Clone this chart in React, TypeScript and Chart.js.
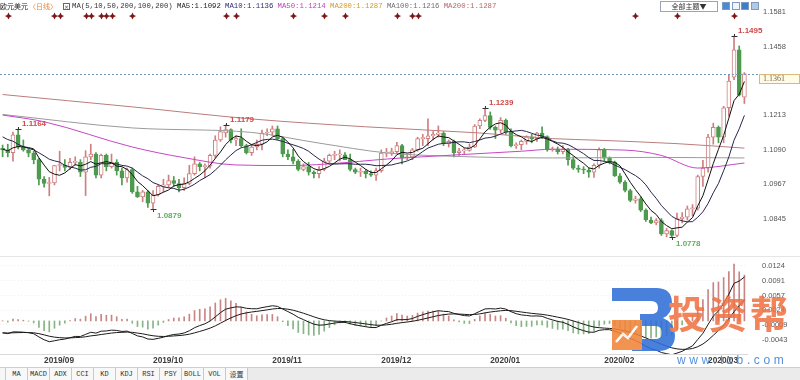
import React, { useEffect, useRef } from "react";
import { Chart, registerables } from "chart.js";

Chart.register(...registerables);

// ---------------- data ----------------
const monthLabels = ["2019/09", "2019/10", "2019/11", "2019/12", "2020/01", "2020/02", "2020/03"];
const monthStartIdx = [8, 29, 52, 73, 94, 116, 136];

const opens = [
  1.1095, 1.1090, 1.1080, 1.1143, 1.1100, 1.1090, 1.1078, 1.1055, 1.0985, 1.0970,
  1.0972, 1.1034, 1.1036, 1.1027, 1.1045, 1.1045, 1.1010, 1.1065, 1.1075, 1.1000,
  1.1070, 1.1030, 1.1045, 1.1015, 1.0990, 1.1020, 1.0940, 1.0922, 1.0940, 1.0900,
  1.0930, 1.0960, 1.0965, 1.0980, 1.0970, 1.0955, 1.0970, 1.1005, 1.1040, 1.1030,
  1.1032, 1.1070, 1.1125, 1.1150, 1.1162, 1.1125, 1.1130, 1.1105, 1.1080, 1.1100,
  1.1110, 1.1150, 1.1153, 1.1165, 1.1130, 1.1075, 1.1065, 1.1050, 1.1020, 1.1030,
  1.1010, 1.1005, 1.1020, 1.1050, 1.1070, 1.1072, 1.1072, 1.1055, 1.1020, 1.1010,
  1.1013, 1.1005, 1.1000, 1.1016, 1.1078, 1.1080, 1.1083, 1.1105, 1.1060, 1.1065,
  1.1090, 1.1130, 1.1130, 1.1140, 1.1145, 1.1150, 1.1112, 1.1120, 1.1080, 1.1086,
  1.1088, 1.1100, 1.1175, 1.1195, 1.1212, 1.1170, 1.1160, 1.1195, 1.1153, 1.1105,
  1.1108, 1.1120, 1.1135, 1.1130, 1.1150, 1.1137, 1.1090, 1.1093, 1.1083, 1.1092,
  1.1055, 1.1025, 1.1020, 1.1018, 1.1010, 1.1035, 1.1090, 1.1060, 1.1045, 1.0997,
  1.0975, 1.0945, 1.0910, 1.0915, 1.0875, 1.0840, 1.0830, 1.0838, 1.0790, 1.0802,
  1.0785, 1.0845, 1.0850, 1.0880, 1.0882, 1.0995, 1.1025, 1.1135, 1.1170, 1.1135,
  1.1240, 1.1349, 1.1446, 1.1278,
];
const highs = [
  1.1107, 1.1110, 1.1153, 1.1164, 1.1125, 1.1095, 1.1085, 1.1060, 1.0995, 1.0992,
  1.1035, 1.1085, 1.1055, 1.1060, 1.1065, 1.1055, 1.1087, 1.1110, 1.1080, 1.1075,
  1.1075, 1.1075, 1.1055, 1.1025, 1.1025, 1.1025, 1.0960, 1.0945, 1.0945, 1.0945,
  1.0965, 1.0985, 1.1000, 1.0995, 1.0985, 1.0990, 1.1035, 1.1065, 1.1045, 1.1040,
  1.1075, 1.1140, 1.1172, 1.1179, 1.1165, 1.1140, 1.1165, 1.1110, 1.1110, 1.1125,
  1.1160, 1.1165, 1.1175, 1.1175, 1.1135, 1.1090, 1.1092, 1.1055, 1.1040, 1.1045,
  1.1015, 1.1030, 1.1060, 1.1075, 1.1085, 1.1090, 1.1080, 1.1075, 1.1025, 1.1025,
  1.1020, 1.1015, 1.1025, 1.1090, 1.1095, 1.1096, 1.1117, 1.1110, 1.1075, 1.1095,
  1.1135, 1.1145, 1.1200, 1.1155, 1.1175, 1.1155, 1.1125, 1.1125, 1.1095, 1.1095,
  1.1110, 1.1180, 1.1200, 1.1239, 1.1225, 1.1175, 1.1205, 1.1200, 1.1165, 1.1115,
  1.1125, 1.1140, 1.1145, 1.1152, 1.1172, 1.1140, 1.1100, 1.1100, 1.1105, 1.1095,
  1.1065, 1.1035, 1.1030, 1.1025, 1.1040, 1.1097, 1.1095, 1.1065, 1.1050, 1.1005,
  1.0980, 1.0950, 1.0925, 1.0923, 1.0880, 1.0850, 1.0845, 1.0845, 1.0810, 1.0805,
  1.0865, 1.0866, 1.0890, 1.0895, 1.1000, 1.1053, 1.1145, 1.1185, 1.1175, 1.1245,
  1.1355, 1.1495, 1.1460, 1.1365,
];
const lows = [
  1.1065, 1.1065, 1.1050, 1.1093, 1.1085, 1.1065, 1.1040, 1.0965, 1.0957, 1.0926,
  1.0965, 1.1015, 1.1015, 1.1020, 1.1035, 1.0995, 1.0927, 1.1055, 1.0990, 1.0990,
  1.1015, 1.1025, 1.1000, 1.0965, 1.0975, 1.0935, 1.0920, 1.0905, 1.0885, 1.0879,
  1.0925, 1.0940, 1.0955, 1.0960, 1.0940, 1.0945, 1.0965, 1.1000, 1.1015, 1.0990,
  1.1025, 1.1060, 1.1120, 1.1135, 1.1115, 1.1105, 1.1100, 1.1075, 1.1070, 1.1090,
  1.1090, 1.1140, 1.1140, 1.1125, 1.1065, 1.1055, 1.1040, 1.1015, 1.1015, 1.1000,
  1.0990, 1.0990, 1.1015, 1.1040, 1.1055, 1.1050, 1.1055, 1.1015, 1.1005, 1.0995,
  1.0990, 1.0995, 1.0981, 1.1010, 1.1065, 1.1070, 1.1075, 1.1040, 1.1055, 1.1055,
  1.1085, 1.1105, 1.1105, 1.1125, 1.1135, 1.1105, 1.1100, 1.1065, 1.1070, 1.1075,
  1.1085, 1.1098, 1.1165, 1.1190, 1.1163, 1.1130, 1.1150, 1.1145, 1.1100, 1.1095,
  1.1090, 1.1110, 1.1115, 1.1120, 1.1130, 1.1085, 1.1085, 1.1075, 1.1075, 1.1035,
  1.1020, 1.1010, 1.1005, 1.0992, 1.0992, 1.1025, 1.1050, 1.1040, 1.0995, 1.0970,
  1.0940, 1.0905, 1.0900, 1.0870, 1.0835, 1.0827, 1.0823, 1.0785, 1.0780, 1.0778,
  1.0780, 1.0830, 1.0840, 1.0855, 1.0875, 1.0960, 1.1010, 1.1110, 1.1115, 1.1115,
  1.1210, 1.1340, 1.1282, 1.1255,
];
const closes = [
  1.1090, 1.1080, 1.1143, 1.1100, 1.1090, 1.1078, 1.1055, 1.0985, 1.0970, 1.0972,
  1.1034, 1.1036, 1.1027, 1.1045, 1.1045, 1.1010, 1.1065, 1.1075, 1.1000, 1.1070,
  1.1030, 1.1045, 1.1015, 1.0990, 1.1020, 1.0940, 1.0922, 1.0940, 1.0900, 1.0930,
  1.0960, 1.0965, 1.0980, 1.0970, 1.0955, 1.0970, 1.1005, 1.1040, 1.1030, 1.1032,
  1.1070, 1.1125, 1.1155, 1.1162, 1.1125, 1.1130, 1.1105, 1.1080, 1.1100, 1.1110,
  1.1150, 1.1153, 1.1165, 1.1130, 1.1075, 1.1065, 1.1050, 1.1020, 1.1030, 1.1010,
  1.1005, 1.1020, 1.1050, 1.1070, 1.1072, 1.1072, 1.1055, 1.1020, 1.1010, 1.1013,
  1.1005, 1.1000, 1.1016, 1.1078, 1.1080, 1.1083, 1.1105, 1.1060, 1.1065, 1.1090,
  1.1130, 1.1132, 1.1140, 1.1145, 1.1150, 1.1112, 1.1120, 1.1080, 1.1086, 1.1088,
  1.1100, 1.1175, 1.1195, 1.1212, 1.1170, 1.1160, 1.1195, 1.1153, 1.1105, 1.1108,
  1.1120, 1.1135, 1.1130, 1.1150, 1.1137, 1.1090, 1.1093, 1.1083, 1.1092, 1.1055,
  1.1025, 1.1020, 1.1018, 1.1010, 1.1035, 1.1090, 1.1060, 1.1045, 1.0997, 1.0975,
  1.0945, 1.0910, 1.0915, 1.0875, 1.0840, 1.0830, 1.0838, 1.0790, 1.0802, 1.0785,
  1.0845, 1.0850, 1.0880, 1.0882, 1.0995, 1.1025, 1.1135, 1.1170, 1.1135, 1.1240,
  1.1335, 1.1446, 1.1285, 1.1361,
];
// closes before the first visible candle (so MA5/MA10 match the legend values)
const priorCloses = [1.1177, 1.1200, 1.1213, 1.1172, 1.1140, 1.1107, 1.1090, 1.1078, 1.1095];

// long moving averages as [candle index, value]
const ma50Pts = [[0, 1.1214], [8, 1.1190], [25, 1.1100], [35, 1.1062], [45, 1.1036], [55, 1.1034], [77, 1.1061], [100, 1.1085], [106, 1.1092], [120, 1.1089], [127, 1.1070], [134, 1.1025], [143, 1.1043]];
const ma100Pts = [[0, 1.1216], [25, 1.1168], [48, 1.1152], [61, 1.1114], [74, 1.1079], [85, 1.1068], [106, 1.1061], [125, 1.1063], [143, 1.1061]];
const ma200Pts = [[0, 1.1287], [25, 1.1243], [48, 1.1200], [70, 1.1172], [92, 1.1150], [106, 1.1130], [115, 1.1124], [130, 1.1112], [143, 1.1096]];

// MACD(12,26,9) state just before the first candle
const ema12Seed = 1.1135;
const ema26Seed = 1.116;
const deaSeed = -0.0027;

const priceTicks = [1.1581, 1.1458, 1.1213, 1.109, 1.0967, 1.0845];
const macdTicks = [0.0124, 0.0091, 0.0057, 0.0024, -0.0009, -0.0043];
const priceMin = 1.07117;
const priceMax = 1.16238;
const macdMin = -0.00746;
const macdMax = 0.014205;
const currentPrice = 1.1361;

const extremeIdx = [3, 29, 43, 93, 129, 141];
const extremeKind = ["H", "L", "H", "H", "L", "H"];
const eventIdx = [1, 10, 11, 16, 17, 19, 20, 21, 25, 43, 45, 56, 62, 66, 76, 79, 80, 122, 130, 141];

const tabLabels = ["MA", "MACD", "ADX", "CCI", "KD", "KDJ", "RSI", "PSY", "BOLL", "VOL", "设置"];

// ---------------- derived series ----------------
const N = closes.length;
const idx = closes.map((_, i) => i);

function movingAverage(period: number) {
  const all = [...priorCloses, ...closes];
  const off = priorCloses.length;
  return closes.map((_, i) => {
    let s = 0;
    for (let k = 0; k < period; k++) s += all[off + i - k];
    return s / period;
  });
}
const ma5 = movingAverage(5);
const ma10 = movingAverage(10);

function computeMacd() {
  let e12 = ema12Seed;
  let e26 = ema26Seed;
  let dea = deaSeed;
  const difA: number[] = [];
  const deaA: number[] = [];
  const histA: number[] = [];
  closes.forEach((c) => {
    e12 = e12 + (2 / 13) * (c - e12);
    e26 = e26 + (2 / 27) * (c - e26);
    const d = e12 - e26;
    dea = dea + 0.2 * (d - dea);
    difA.push(d);
    deaA.push(dea);
    histA.push(2 * (d - dea));
  });
  return { dif: difA, dea: deaA, hist: histA };
}
const macd = computeMacd();

// ---------------- styles ----------------
const UP = "#cf7f7f";
const DOWN = "#4e9a4e";
const isUp = closes.map((c, i) => c >= opens[i]);
const AXIS_FONT = { family: "'Liberation Sans', Arial, sans-serif", size: 7.5 };

function drawStar(ctx: CanvasRenderingContext2D, x: number, y: number, r: number) {
  ctx.beginPath();
  ctx.moveTo(x, y - r);
  ctx.quadraticCurveTo(x + 0.6, y - 0.6, x + r, y);
  ctx.quadraticCurveTo(x + 0.6, y + 0.6, x, y + r);
  ctx.quadraticCurveTo(x - 0.6, y + 0.6, x - r, y);
  ctx.quadraticCurveTo(x - 0.6, y - 0.6, x, y - r);
  ctx.fill();
}

const priceExtras = {
  id: "priceExtras",
  afterDatasetsDraw(chart: any) {
    const ctx = chart.ctx as CanvasRenderingContext2D;
    const xs = chart.scales.x;
    const ys = chart.scales.y;
    const area = chart.chartArea;
    ctx.save();
    // high / low marks
    extremeIdx.forEach((i, k) => {
      const high = extremeKind[k] === "H";
      const v = high ? highs[i] : lows[i];
      const x = Math.round(xs.getPixelForValue(i)) + 0.5;
      const y = Math.round(ys.getPixelForValue(v)) + 0.5;
      ctx.strokeStyle = "#333";
      ctx.lineWidth = 1;
      ctx.beginPath();
      ctx.moveTo(x - 3, y);
      ctx.lineTo(x + 3, y);
      ctx.moveTo(x, high ? y - 2.5 : y);
      ctx.lineTo(x, high ? y : y + 2.5);
      ctx.stroke();
      ctx.font = "bold 8px 'Liberation Sans', Arial, sans-serif";
      ctx.textAlign = "left";
      ctx.textBaseline = "middle";
      ctx.fillStyle = high ? "#d24848" : "#62ad62";
      ctx.fillText(v.toFixed(4), x + 3.5, high ? y - 6 : y + 6);
    });
    // event markers
    ctx.fillStyle = "#7d1616";
    eventIdx.forEach((i) => {
      const x = Math.round(xs.getPixelForValue(i)) + 0.5;
      drawStar(ctx, x, area.top + 16, 3.6);
    });
    // current price line + box
    const py = Math.round(ys.getPixelForValue(currentPrice)) + 0.5;
    ctx.strokeStyle = "#6f98bd";
    ctx.setLineDash([2, 2]);
    ctx.beginPath();
    ctx.moveTo(area.left, py);
    ctx.lineTo(area.right + 12, py);
    ctx.stroke();
    ctx.setLineDash([]);
    ctx.fillStyle = "#fffbe6";
    ctx.fillRect(759.5, py, 40, 9);
    ctx.strokeStyle = "#d6bb78";
    ctx.strokeRect(759.5, py, 40, 9);
    ctx.fillStyle = "#7a6a4a";
    ctx.font = "8px 'Liberation Serif', serif";
    ctx.textAlign = "left";
    ctx.textBaseline = "middle";
    ctx.fillText(currentPrice.toFixed(4), 763, py + 4.5);
    ctx.restore();
  },
};

function lineDs(label: string, pts: { x: number; y: number }[], color: string, order: number, smooth: boolean) {
  return {
    type: "line",
    label,
    data: pts,
    borderColor: color,
    borderWidth: 1,
    pointRadius: 0,
    fill: false,
    order,
    cubicInterpolationMode: smooth ? "monotone" : "default",
  };
}

export default function App() {
  const priceRef = useRef<HTMLCanvasElement | null>(null);
  const macdRef = useRef<HTMLCanvasElement | null>(null);

  useEffect(() => {
    if (!priceRef.current || !macdRef.current) return;
    const priceChart = new Chart(priceRef.current, {
      type: "bar",
      data: {
        datasets: [
          lineDs("MA5", ma5.map((v, i) => ({ x: i, y: v })), "#111111", 0, false),
          lineDs("MA10", ma10.map((v, i) => ({ x: i, y: v })), "#25254f", 0, false),
          lineDs("MA50", ma50Pts.map(([x, y]) => ({ x, y })), "#c646c6", 1, true),
          lineDs("MA100", ma100Pts.map(([x, y]) => ({ x, y })), "#9b9b9b", 1, true),
          lineDs("MA200", ma200Pts.map(([x, y]) => ({ x, y })), "#bb7c7c", 1, true),
          {
            type: "bar",
            label: "body",
            data: idx.map((i) => ({ x: i, y: [opens[i], closes[i]] })),
            backgroundColor: isUp.map((u) => (u ? "#ffffff" : DOWN)),
            borderColor: isUp.map((u) => (u ? UP : DOWN)),
            borderWidth: 1,
            borderSkipped: false,
            barThickness: 4,
            minBarLength: 1,
            grouped: false,
            order: 2,
          },
          {
            type: "bar",
            label: "wick",
            data: idx.map((i) => ({ x: i, y: [lows[i], highs[i]] })),
            backgroundColor: isUp.map((u) => (u ? UP : DOWN)),
            barThickness: 1,
            grouped: false,
            order: 3,
          },
        ] as any,
      },
      options: {
        responsive: false,
        animation: false,
        devicePixelRatio: 1,
        events: [],
        layout: { padding: 0 },
        plugins: { legend: { display: false }, tooltip: { enabled: false } },
        scales: {
          x: { type: "linear", min: -0.5, max: N - 0.5, display: false, offset: false },
          y: {
            type: "linear",
            position: "right",
            min: priceMin,
            max: priceMax,
            afterBuildTicks: (s: any) => {
              s.ticks = priceTicks.map((v) => ({ value: v }));
            },
            afterFit: (s: any) => {
              s.width = 53;
              s.paddingTop = 0;
              s.paddingBottom = 0;
            },
            ticks: {
              autoSkip: false,
              padding: 16,
              color: "#555",
              font: AXIS_FONT,
              callback: (v: any) => Number(v).toFixed(4),
            },
            grid: { display: false, drawTicks: false },
            border: { display: false },
          },
        },
      } as any,
      plugins: [priceExtras],
    });

    const macdChart = new Chart(macdRef.current, {
      type: "bar",
      data: {
        datasets: [
          lineDs("DIF", macd.dif.map((v, i) => ({ x: i, y: v })), "#1a1a1a", 0, false),
          lineDs("DEA", macd.dea.map((v, i) => ({ x: i, y: v })), "#1a1a1a", 0, false),
          {
            type: "bar",
            label: "MACD",
            data: macd.hist.map((v, i) => ({ x: i, y: v })),
            backgroundColor: macd.hist.map((v) => (v >= 0 ? "#c98585" : "#86b486")),
            barThickness: 1,
            grouped: false,
            order: 2,
          },
        ] as any,
      },
      options: {
        responsive: false,
        animation: false,
        devicePixelRatio: 1,
        events: [],
        layout: { padding: { top: 2, left: 0, right: 0, bottom: 0 } },
        plugins: { legend: { display: false }, tooltip: { enabled: false } },
        scales: {
          x: {
            type: "linear",
            min: -0.5,
            max: N - 0.5,
            offset: false,
            afterBuildTicks: (s: any) => {
              s.ticks = monthStartIdx.map((v) => ({ value: v }));
            },
            afterFit: (s: any) => {
              s.height = 14;
              s.paddingLeft = 0;
              s.paddingRight = 0;
            },
            ticks: {
              autoSkip: false,
              maxRotation: 0,
              align: "start",
              padding: 2,
              color: "#3c3c3c",
              font: { family: "'Liberation Sans', Arial, sans-serif", size: 8.3, weight: "bold" },
              callback: (_v: any, i: number) => monthLabels[i],
            },
            grid: { display: false, drawTicks: false },
            border: { display: true, color: "#d9d9d9" },
          },
          y: {
            type: "linear",
            position: "right",
            min: macdMin,
            max: macdMax,
            afterBuildTicks: (s: any) => {
              s.ticks = macdTicks.map((v) => ({ value: v }));
            },
            afterFit: (s: any) => {
              s.width = 53;
              s.paddingTop = 0;
              s.paddingBottom = 0;
            },
            ticks: {
              autoSkip: false,
              padding: 15,
              color: "#555",
              font: AXIS_FONT,
              callback: (v: any) => Number(v).toFixed(4),
            },
            grid: { color: "#f1f1f1", drawTicks: false },
            border: { display: false, dash: [1, 2] },
          },
        },
      } as any,
    });

    return () => {
      priceChart.destroy();
      macdChart.destroy();
    };
  }, []);

  const legendItems = [
    { text: "MA(5,10,50,200,100,200)", color: "#333" },
    { text: `MA5:${ma5[0].toFixed(4)}`, color: "#222" },
    { text: `MA10:${ma10[0].toFixed(4)}`, color: "#2b2b73" },
    { text: `MA50:${ma50Pts[0][1].toFixed(4)}`, color: "#c040c0" },
    { text: `MA200:${ma200Pts[0][1].toFixed(4)}`, color: "#d49a2c" },
    { text: `MA100:${ma100Pts[0][1].toFixed(4)}`, color: "#707070" },
    { text: `MA200:${ma200Pts[0][1].toFixed(4)}`, color: "#b56868" },
  ];
  const mono = "'Liberation Mono', 'DejaVu Sans Mono', monospace";
  const cjk = "'Noto Sans CJK SC', sans-serif";

  return (
    <div style={{ position: "absolute", left: 0, top: 0, width: 800, height: 380, background: "#fff", overflow: "hidden" }}>
      <canvas ref={priceRef} width={800} height={256} style={{ position: "absolute", left: 0, top: 0, width: 800, height: 256 }} />
      <div style={{ position: "absolute", left: 0, top: 256, width: 800, height: 1, background: "#e6e6e6" }} />
      <canvas ref={macdRef} width={800} height={112} style={{ position: "absolute", left: 0, top: 256, width: 800, height: 112 }} />

      {/* header */}
      <div style={{ position: "absolute", left: 0, top: 1, fontFamily: cjk, fontSize: 7, lineHeight: "11px", color: "#222", whiteSpace: "nowrap" }}>欧元美元</div>
      <div style={{ position: "absolute", left: 29, top: 1, fontFamily: cjk, fontSize: 7, lineHeight: "11px", color: "#e5863a", whiteSpace: "nowrap" }}>〈日线〉</div>
      <div style={{ position: "absolute", left: 63, top: 3, width: 5, height: 5, border: "1px solid #666", fontSize: 6, lineHeight: "5px", textAlign: "center", color: "#444", fontFamily: "'DejaVu Sans', sans-serif" }}>×</div>
      <div style={{ position: "absolute", left: 72, top: 1, display: "flex", gap: 4.3, fontFamily: mono, fontSize: 7.3, lineHeight: "11px", whiteSpace: "pre" }}>
        {legendItems.map((it, k) => (
          <span key={k} style={{ color: it.color }}>
            {it.text}
          </span>
        ))}
      </div>

      {/* top-right controls */}
      <div style={{ position: "absolute", left: 660, top: 1, width: 56, height: 9, border: "1px solid #9aa6b4", background: "#fff", fontFamily: cjk, fontSize: 7, lineHeight: "9px", textAlign: "center", color: "#333" }}>全部主题▼</div>
      {["#4d8ad4", "#f1f5fa", "#3f7ec8", "#b3c9e3"].map((c, k) => (
        <div key={k} style={{ position: "absolute", left: 722 + k * 9.5, top: 2, width: 6, height: 6, background: c, border: "1px solid #7d9cc0" }} />
      ))}

      {/* watermark */}
      <div style={{ position: "absolute", left: 0, top: 0, width: 800, height: 380, opacity: 0.88, pointerEvents: "none" }}>
        <svg style={{ position: "absolute", left: 610, top: 288 }} width={66} height={64} viewBox="0 0 66 64">
          <path d="M2,0 H46 Q62,0 62,15 Q62,26 53,30 Q65,35 65,47 Q65,63 48,63 H22 V51 H45 Q52,51 52,45 Q52,38 45,38 H30 V26 H41 Q48,26 48,20 Q48,13 41,13 H2 Z" fill="#2f6fd8" />
          <rect x={2} y={32} width={30} height={30} fill="#f2843a" />
          <polyline points="6,54 13,46 18,50 27,38" fill="none" stroke="#fff" strokeWidth={2.5} />
        </svg>
        <div style={{ position: "absolute", left: 668, top: 284, fontFamily: cjk, fontWeight: 700, fontSize: 38, lineHeight: "56px", letterSpacing: 3, color: "#f07444", whiteSpace: "nowrap" }}>投资帮</div>
        <div style={{ position: "absolute", left: 677, top: 353, fontFamily: "'Liberation Sans', Arial, sans-serif", fontSize: 12, lineHeight: "14px", letterSpacing: 3.6, color: "#3b7fd8", whiteSpace: "nowrap" }}>www.tzb.com</div>
      </div>

      {/* bottom tab bar */}
      <div style={{ position: "absolute", left: 0, top: 367, width: 800, height: 13, background: "#ebebeb", borderTop: "1px solid #cfcfcf", display: "flex" }}>
        <div style={{ width: 5, height: 12, borderRight: "1px solid #c9c9c9", background: "#f6f6f6" }} />
        {tabLabels.map((t, k) => (
          <div
            key={k}
            style={{
              width: 21,
              height: 12,
              borderRight: "1px solid #c9c9c9",
              background: "#f8f8f8",
              fontFamily: /[\u4e00-\u9fff]/.test(t) ? cjk : mono,
              fontSize: 7,
              lineHeight: "12px",
              textAlign: "center",
              color: "#333",
              whiteSpace: "nowrap",
            }}
          >
            {t}
          </div>
        ))}
      </div>
    </div>
  );
}
